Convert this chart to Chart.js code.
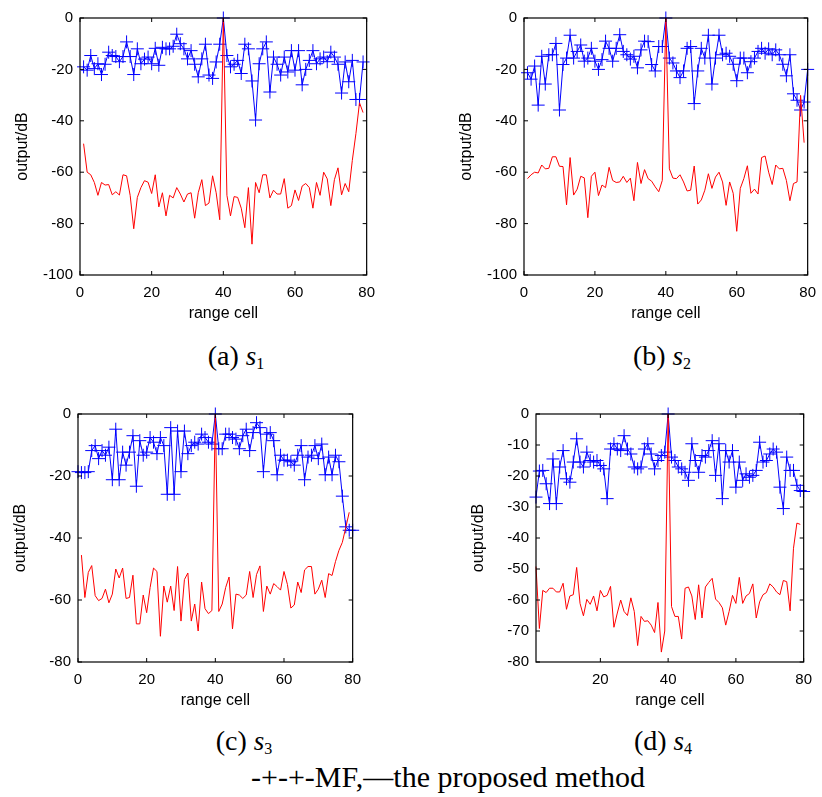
<!DOCTYPE html>
<html>
<head>
<meta charset="utf-8">
<script src="https://cdn.jsdelivr.net/npm/chart.js@4"></script>
<style>
    body { margin: 0; background: #fff; width: 822px; height: 797px; position: relative; overflow: hidden; }
    canvas { position: absolute; }
    .cap { position: absolute; font-family: "Liberation Serif", "Times New Roman", serif; font-size: 28px; line-height: 1; white-space: nowrap; transform: translateX(-50%); color: #000; }
    .cap i { font-size: 27px; }
    .cap sub { font-size: 16px; vertical-align: -4px; }
    #note { font-size: 30px; }
</style>
</head>
<body>
<canvas id="ca" width="379" height="323" style="left:5px;top:2px"></canvas>
<canvas id="cb" width="376" height="323" style="left:449px;top:2px"></canvas>
<canvas id="cc" width="367" height="314" style="left:3px;top:398px"></canvas>
<canvas id="cd" width="360" height="314" style="left:461px;top:398px"></canvas>

<div class="cap" style="left:236px;top:342px">(a) <i>s</i><sub>1</sub></div>
<div class="cap" style="left:662px;top:342px">(b) <i>s</i><sub>2</sub></div>
<div class="cap" style="left:244px;top:727px">(c) <i>s</i><sub>3</sub></div>
<div class="cap" style="left:663px;top:727px">(d) <i>s</i><sub>4</sub></div>
<div class="cap" id="note" style="left:448px;top:762px">-+-+-MF,—the proposed method</div>

<script>
// ===============================
// Data
// ===============================
const mfA = [-19,-20.3,-14.6,-19.7,-17.8,-22,-18,-13.3,-14.6,-15,-17,-15,-9.3,-15,-22,-12,-17.8,-16,-15.2,-17.8,
    -11.8,-18.4,-11.4,-12,-12,-11,-6.3,-10,-12,-15.9,-12.7,-18,-22.9,-15.9,-10.2,-22.2,-23.5,-17.1,-10.2,0,
    -14.6,-19,-18,-16.5,-21.6,-10.2,-12,-24.5,-39.7,-17.8,-12,-9.3,-28.8,-15.2,-18,-22.2,-15.2,-21,-12.7,-20.3,
    -12.7,-26,-20,-16.5,-12.7,-17.8,-15.9,-15.2,-17,-13.3,-15.2,-18,-29.2,-17.1,-24.8,-16.5,-31.7,-31.7,-17.1];
const pmA = [-48.9,-60,-61,-64,-69,-64,-65,-64.8,-68.8,-67.6,-68.9,-61,-61.4,-69,-82,-69.8,-66,-63.3,-63.9,-68.3,
    -61,-73.5,-68,-77,-69,-70,-66,-68.5,-71.6,-68.5,-68,-77.9,-68,-62.9,-73,-72,-61.4,-68,-78.5,0,
    -69,-77,-69.5,-69.8,-74,-81.6,-66,-88,-64,-68,-61,-61,-70,-67,-68.5,-68.5,-62.5,-74,-73,-66.9,
    -71,-65.4,-64.4,-66,-74,-64,-69,-60,-62.6,-73,-62.9,-58.3,-68.8,-64.4,-67.6,-55.4,-45,-33,-36.8];

const mfB = [-21.3,-23.8,-18.7,-33.9,-14.9,-25.7,-14.3,-14.3,-9.9,-35.8,-18.1,-15.6,-6.7,-15.6,-13,-10.5,-16.8,-15.6,-11.8,-16.8,
    -20,-16.2,-9,-11.8,-16.8,-11.8,-6.5,-13,-14.3,-16,-14.9,-19.4,-12.4,-9,-9.2,-18.1,-20.6,-11.1,-11.1,0,
    -15.6,-17.5,-20.6,-23.2,-20.6,-11.8,-11.1,-33.3,-20.6,-11.8,-15.6,-6.7,-25.7,-15.6,-6.7,-14.3,-13.7,-14.9,-18,-24.4,
    -15.6,-15.6,-21.3,-17,-15.6,-13,-11.8,-13.7,-12,-14.3,-12.4,-14.3,-18,-22.5,-14.3,-29.5,-32,-35.8,-32.7,-20];
const pmB = [-62.5,-61,-60,-60.3,-57.2,-58.7,-58.5,-54,-54,-57.7,-57.8,-72.7,-54.3,-68.9,-66.6,-61.6,-62.2,-77.7,-61.6,-60,
    -69.1,-65,-66,-58.1,-63.2,-64,-63.8,-61.6,-64,-62.3,-71.1,-56.2,-64.4,-59,-62.5,-63.5,-65.7,-67.6,-63.2,0,
    -58.7,-62.3,-62.5,-61,-63.8,-67.3,-67,-57.6,-72.4,-70.8,-67,-60.6,-66.3,-61.9,-60,-63.8,-72.9,-63.8,-68.2,-83,
    -66.3,-62.5,-57.5,-68.2,-66.6,-68.5,-54.3,-53.7,-60,-64.8,-57.2,-58.7,-58.5,-63.2,-71.1,-64.4,-63.8,-30.1,-48.5];

const mfC = [-18.6,-18.9,-18.9,-18.6,-11.8,-10.2,-14.4,-11.8,-13.3,-10.7,-21.2,-4.9,-21.2,-12.3,-16.5,-12.3,-7,-23.3,-8.6,-13.3,
    -12.3,-7.6,-9.1,-12.8,-7.6,-10.2,-25.9,-4.4,-25.9,-5.5,-18.6,-5.5,-12.8,-10.2,-9.1,-9.7,-6.5,-7.6,-9.1,-9.7,0,
    -11.2,-11.2,-6.5,-6.5,-7.6,-8.1,-11.2,-7,-4.9,-11.8,-6,-2.8,-4.4,-18.6,-6.5,-6,-8.6,-19.6,-13.3,-14.9,
    -14.9,-15.4,-16.5,-13.3,-10.2,-21.2,-13.9,-13.3,-10.2,-14.4,-9.7,-19.6,-13.9,-19.6,-13.3,-15.4,-26.5,-36.4,-37.5,-37.5];
const pmC = [-45.5,-59.2,-51.1,-48.9,-58.6,-60.2,-59.5,-56.5,-60.9,-58.1,-50,-52.9,-49.7,-59.5,-59.2,-52,-67.7,-67.7,-58.4,-64.1,
    -56,-49.7,-50.8,-71.7,-55.5,-60.7,-55.5,-63.4,-49.2,-66.8,-53.4,-51.3,-66.8,-61.3,-70,-54.2,-62.8,-64.4,-63.4,0,
    -63.7,-61.3,-56,-52.6,-69.3,-58.1,-58.4,-59.5,-58.4,-50.8,-59.2,-51.8,-49,-63.7,-55.5,-58.1,-54.7,-55.7,-56.8,-50.8,
    -55,-62.6,-61.6,-54.2,-57.6,-50.3,-49.2,-49.2,-58.1,-56.5,-53.6,-59.2,-51.5,-52.1,-47.6,-44,-41.4,-36.6,-31.7];

const mfD = [-26.8,-18.4,-18.2,-22.5,-28.9,-14.5,-28.9,-17.1,-11.8,-20.9,-22,-15.5,-8,-15.5,-17.1,-12.3,-15,-15.5,-15,-16.6,
    -17.7,-27.3,-11.3,-9.6,-11.3,-11.8,-7,-11.3,-12.9,-17.1,-17.7,-17.1,-11.3,-9.6,-12.9,-17.7,-15,-13.4,-12.3,0,
    -13.9,-15,-17.1,-17.7,-18.8,-21.4,-9.6,-15,-18.8,-13.4,-13.9,-11.8,-8.6,-19.8,-9.6,-27.3,-11.8,-15.5,-11.8,-23.6,
    -15.5,-21.4,-19.3,-20.4,-19.8,-18.2,-9.1,-15.5,-15,-12.9,-11.3,-12.3,-23.6,-30.5,-13.9,-18.2,-18.2,-23,-24.7,-25];
const pmD = [-49.2,-69.2,-56.9,-57.6,-56.2,-56.2,-57.4,-57.4,-54.6,-63,-58.7,-58.3,-49.5,-61.1,-65.1,-59.8,-61.4,-58.7,-63.5,-56.9,
    -59,-58.5,-55.6,-68.8,-64.2,-60,-63.7,-65,-59.3,-63.7,-74.7,-65.3,-66.9,-66.7,-68.1,-70.5,-60.8,-76.8,-70,0,
    -62.1,-65.3,-65.3,-72.6,-56.2,-55.8,-58.7,-66.3,-55.1,-65.8,-55.8,-54.3,-53,-59.7,-60.8,-62.5,-68.1,-63.7,-58.5,-61.1,
    -52.7,-61.1,-58.7,-57.9,-54.8,-65.8,-60.6,-58.3,-57.6,-54.8,-55.8,-57.4,-58.3,-53.7,-54.1,-63.5,-43.3,-35.2,-35.6];

// tick values
const xTicks = [0, 20, 40, 60, 80];
const xTicksD = [20, 40, 60, 80];
const yTicks100 = [-100, -80, -60, -40, -20, 0];
const yTicks80 = [-80, -60, -40, -20, 0];
const yTicks80by10 = [-80, -70, -60, -50, -40, -30, -20, -10, 0];

Chart.defaults.font.family = '"Liberation Sans", Arial, sans-serif';
Chart.defaults.color = '#000';

// ===============================
// box + inward tick marks (MATLAB style)
// ===============================
const boxPlugin = {
    id: 'box',
    afterDatasetsDraw(chart) {
        const { ctx, chartArea: a, scales: { x, y } } = chart;
        ctx.save();
        ctx.strokeStyle = '#000';
        ctx.lineWidth = 1.2;
        ctx.strokeRect(a.left, a.top, a.right - a.left, a.bottom - a.top);
        ctx.lineWidth = 1;
        ctx.beginPath();
        x.ticks.forEach(t => {
            const px = x.getPixelForValue(t.value);
            ctx.moveTo(px, a.bottom); ctx.lineTo(px, a.bottom - 4);
            ctx.moveTo(px, a.top); ctx.lineTo(px, a.top + 4);
        });
        y.ticks.forEach(t => {
            const py = y.getPixelForValue(t.value);
            ctx.moveTo(a.left, py); ctx.lineTo(a.left + 4, py);
            ctx.moveTo(a.right, py); ctx.lineTo(a.right - 4, py);
        });
        ctx.stroke();
        ctx.restore();
    }
};

function toPoints(arr, x0) {
    return arr.map((v, i) => ({ x: x0 + i, y: v }));
}

function makeChart(id, mf, mfX0, pm, pmX0, xMin, xMax, xt, yMin, yt) {
    new Chart(document.getElementById(id), {
        type: 'line',
        data: {
            datasets: [
                { label: 'the proposed method', data: toPoints(pm, pmX0), borderColor: '#ff0000', borderWidth: 1,
                  pointRadius: 0, tension: 0, clip: false },
                { label: 'MF', data: toPoints(mf, mfX0), borderColor: '#0000ff', borderWidth: 1,
                  pointStyle: 'cross', pointRadius: 6.5, pointBorderColor: '#0000ff', pointBorderWidth: 1,
                  tension: 0, clip: false }
            ]
        },
        options: {
            responsive: false,
            animation: false,
            events: [],
            layout: { padding: { top: 10, right: 12, left: 0, bottom: 0 } },
            plugins: { legend: { display: false }, tooltip: { enabled: false } },
            scales: {
                x: {
                    type: 'linear', min: xMin, max: xMax,
                    grid: { display: false, drawTicks: false }, border: { display: false },
                    ticks: { padding: 9, font: { size: 15 }, maxRotation: 0, autoSkip: false },
                    afterBuildTicks: s => { s.ticks = xt.map(v => ({ value: v })); },
                    title: { display: true, text: 'range cell', font: { size: 16 }, padding: { top: 0, bottom: 2 } },
                    afterFit: s => { s.height = 50; }
                },
                y: {
                    min: yMin, max: 0,
                    grid: { display: false, drawTicks: false }, border: { display: false },
                    ticks: { padding: 7, font: { size: 15 } },
                    afterBuildTicks: s => { s.ticks = yt.map(v => ({ value: v })); },
                    title: { display: true, text: 'output/dB', font: { size: 16 }, padding: { top: 7.5, bottom: 0 } },
                    afterFit: s => { s.width = 75; }
                }
            }
        },
        plugins: [boxPlugin]
    });
}

makeChart('ca', mfA, 1, pmA, 1, 0, 80, xTicks, -100, yTicks100);
makeChart('cb', mfB, 1, pmB, 1, 0, 80, xTicks, -100, yTicks100);
makeChart('cc', mfC, 0, pmC, 1, 0, 80, xTicks, -80, yTicks80);
makeChart('cd', mfD, 1, pmD, 1, 1, 80, xTicksD, -80, yTicks80by10);
</script>
</body>
</html>
